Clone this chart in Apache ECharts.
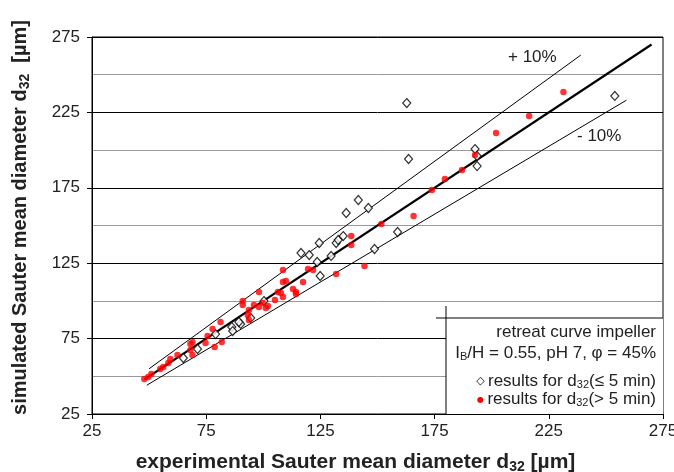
<!DOCTYPE html>
<html>
<head>
<meta charset="utf-8">
<script src="https://cdn.jsdelivr.net/npm/echarts@6/dist/echarts.min.js"></script>
<style>
  html, body { margin: 0; padding: 0; background: #fff; }
  #chart { width: 674px; height: 472px; }
</style>
</head>
<body>
<div id="chart"></div>
<script>
// tick labels of both axes
var tickValues = [25, 75, 125, 175, 225, 275];

// results for d32 (> 5 min): [experimental, simulated]
var redPoints = [
  [47.9, 48.2], [49.6, 49.5], [51.0, 51.5], [54.9, 54.8], [56.2, 56.2],
  [58.4, 58.8], [59.3, 61.5], [62.4, 64.1], [68.1, 71.4], [69.0, 72.7],
  [68.1, 67.4], [69.0, 64.1], [74.7, 72.1], [75.6, 76.7], [77.8, 81.4],
  [78.7, 69.4], [81.3, 86.0], [81.8, 72.7], [91.0, 99.9], [91.0, 97.3],
  [93.7, 94.0], [93.2, 90.6], [93.7, 87.3], [98.1, 105.9], [95.9, 97.3],
  [98.1, 96.0], [99.8, 98.6], [101.1, 95.3], [102.0, 96.6], [105.1, 100.6],
  [106.4, 105.9], [107.7, 105.2], [108.6, 102.6], [108.6, 120.5], [108.6, 112.5],
  [109.9, 113.2], [113.0, 107.9], [114.3, 105.9], [114.3, 104.6], [117.4, 112.5],
  [119.6, 121.1], [121.8, 120.5], [131.9, 117.8], [138.5, 143.0], [138.5, 137.1],
  [144.3, 123.1], [151.7, 151.0], [165.8, 156.3], [173.8, 173.5], [179.5, 180.8],
  [187.0, 186.8], [192.7, 196.7], [201.9, 211.3], [216.4, 222.6], [231.4, 238.5]
];

// results for d32 (<= 5 min): [experimental, simulated]
var diamondPoints = [
  [65.0, 62.1], [71.2, 68.1], [79.1, 78.0], [86.2, 82.7], [86.6, 80.0],
  [90.1, 84.7], [89.3, 86.0], [94.5, 88.7], [100.3, 99.9], [116.5, 131.8],
  [120.1, 130.4], [123.6, 125.8], [124.5, 138.4], [124.9, 116.5], [129.7, 129.8],
  [131.9, 138.4], [132.8, 140.4], [135.0, 143.0], [136.3, 158.3], [141.6, 166.9],
  [146.0, 161.6], [148.7, 134.4], [158.8, 145.7], [162.8, 231.2], [163.6, 194.1],
  [192.7, 200.7], [193.6, 196.1], [193.6, 189.4], [253.9, 235.9]
];

// parity line and +/-10 % band
var parityLine = [[48, 48], [270, 270]];
var plusLine = [[50, 55], [239, 263]];
var minusLine = [[49, 44.1], [259, 233.1]];

var chart = echarts.init(document.getElementById('chart'));
var font = 'Liberation Sans, Arial, sans-serif';
var ink = '#222';

function richTitle(size) {
  return {
    b: { fontSize: size, fontWeight: 'bold', fontFamily: font, color: ink },
    s: { fontSize: Math.round(size * 0.68), fontWeight: 'bold', fontFamily: font, color: ink, padding: [10, 0, 0, 0] }
  };
}
function legendRich(size) {
  return {
    n: { fontSize: size, fontFamily: font, fill: ink },
    s: { fontSize: 11, fontFamily: font, fill: ink, padding: [7, 0, 0, 0] },
    d: { fontSize: 11, fontFamily: 'DejaVu Sans', fill: '#000' },
    r: { fontSize: 8, fontFamily: 'DejaVu Sans', fill: '#ff0000' }
  };
}

var option = {
  animation: false,
  grid: {
    left: 92, right: 11, top: 37, bottom: 58,
    containLabel: false, outerBoundsMode: 'none',
    show: true, borderColor: '#000', borderWidth: 1
  },
  xAxis: {
    type: 'value', min: 25, max: 275, interval: 50,
    axisLine: { lineStyle: { color: '#000', width: 1 } },
    axisTick: { length: 5, lineStyle: { color: '#000' } },
    axisLabel: { color: ink, fontSize: 17, fontFamily: font, margin: 9 },
    splitLine: { show: false },
    name: '{b|experimental Sauter mean diameter d}{s|32}{b| [µm]}',
    nameLocation: 'middle', nameGap: 36,
    nameTextStyle: { rich: richTitle(21), padding: [0, 44, 0, 0] }
  },
  yAxis: {
    type: 'value', min: 25, max: 275, interval: 50,
    axisLine: { show: true, lineStyle: { color: '#000', width: 1 } },
    axisTick: { show: true, length: 5, lineStyle: { color: '#000' } },
    axisLabel: { color: ink, fontSize: 17, fontFamily: font, margin: 12 },
    splitLine: { show: true, lineStyle: { color: '#000', width: 1 } },
    minorTick: { show: false, splitNumber: 2 },
    minorSplitLine: { show: true, lineStyle: { color: '#999', width: 1 } },
    name: '{b|simulated Sauter mean diameter d}{s|32}{b|  [µm]}',
    nameLocation: 'middle', nameGap: 60,
    nameTextStyle: { rich: richTitle(20), padding: [0, 0, 0, 16] }
  },
  series: [
    {
      type: 'line', data: plusLine, symbol: 'none',
      lineStyle: { color: '#000', width: 1 }, z: 2
    },
    {
      type: 'line', data: minusLine, symbol: 'none',
      lineStyle: { color: '#000', width: 1 }, z: 2
    },
    {
      type: 'line', data: parityLine, symbol: 'none',
      lineStyle: { color: '#000', width: 2.2 }, z: 3
    },
    {
      type: 'scatter', data: diamondPoints, symbol: 'diamond', symbolSize: [8, 9],
      itemStyle: { color: '#fff', borderColor: '#000', borderWidth: 1.2 }, z: 4
    },
    {
      type: 'scatter', data: redPoints, symbol: 'circle', symbolSize: 6.5,
      itemStyle: { color: '#ff0000' }, z: 5
    }
  ],
  graphic: [
    { type: 'text', left: 508, top: 49, style: { text: '+ 10%', fontSize: 17, fontFamily: font, fill: ink } },
    { type: 'text', left: 577, top: 128, style: { text: '- 10%', fontSize: 17, fontFamily: font, fill: ink } },
    // text box in the lower right corner
    { type: 'rect', shape: { x: 446, y: 318, width: 217, height: 96 }, style: { fill: '#fff', stroke: null }, z: 10 },
    { type: 'line', shape: { x1: 436, y1: 318, x2: 663, y2: 318 }, style: { stroke: '#000', lineWidth: 1 }, z: 11 },
    { type: 'line', shape: { x1: 446, y1: 306, x2: 446, y2: 414 }, style: { stroke: '#000', lineWidth: 1 }, z: 11 },
    { type: 'text', right: 18, top: 324, z: 12,
      style: { text: 'retreat curve impeller', fontSize: 17, fontFamily: font, fill: ink } },
    { type: 'text', right: 18, top: 345, z: 12,
      style: { text: '{n|I}{s|B}{n|/H = 0.55, pH 7, φ = 45%}', rich: legendRich(17) } },
    { type: 'text', right: 18, top: 373, z: 12,
      style: { text: '{d|◇} {n|results for d}{s|32}{n|(≤ 5 min)}', rich: legendRich(17) } },
    { type: 'text', right: 18, top: 391, z: 12,
      style: { text: '{r|●} {n|results for d}{s|32}{n|(> 5 min)}', rich: legendRich(17) } }
  ]
};

chart.setOption(option);
</script>
</body>
</html>
